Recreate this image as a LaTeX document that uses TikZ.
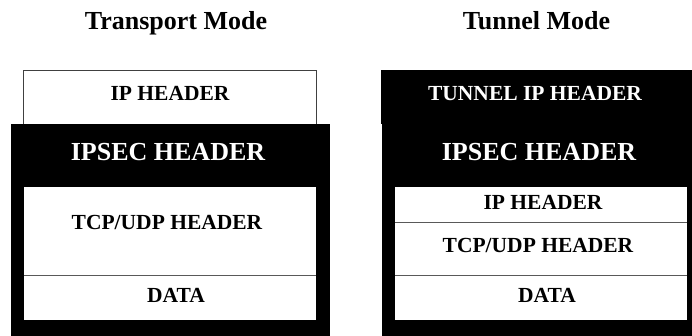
\documentclass[tikz,border=0pt]{standalone}
\usepackage{fontspec}
\setmainfont{Liberation Serif}
\begin{document}
\begin{tikzpicture}[x=1pt,y=-1pt,
  whitebox/.style={draw=black!75, line width=0.8pt, fill=white, inner sep=0pt, outer sep=0pt, anchor=north west},
  whitefill/.style={fill=white, draw=none, inner sep=0pt, outer sep=0pt, anchor=north west},
  blackbox/.style={fill=black, draw=none, inner sep=0pt, outer sep=0pt, anchor=north west},
  sepline/.style={draw=black!65, line width=0.8pt},
  lbl/.style={font=\bfseries\fontsize{21.5}{26}\selectfont, anchor=base, inner sep=0pt},
  biglbl/.style={font=\bfseries\fontsize{26}{30}\selectfont, anchor=base, inner sep=0pt},
  titlelbl/.style={font=\bfseries\fontsize{26}{30}\selectfont, anchor=base, inner sep=0pt}]
\useasboundingbox (0,0) rectangle (692,335);
\clip (0,0) rectangle (692,335);
\fill[white] (0,0) rectangle (692,335);
% titles
\node[titlelbl] (t1) at (176,29) {Transport Mode};
\node[titlelbl] (t2) at (536.5,29) {Tunnel Mode};
% left: transport mode
\node[whitebox, minimum width=293.4pt, minimum height=60pt] (lip) at (23.3,70.7) {};
\node[blackbox, minimum width=319pt, minimum height=230pt] (lsec) at (11,124) {};
\node[whitefill, minimum width=292pt, minimum height=89pt] (ltcp) at (24,186.7) {};
\node[whitefill, minimum width=292pt, minimum height=44.3pt] (ldata) at (24,275.7) {};
\draw[sepline] (ltcp.south west) -- (ltcp.south east);
\node[lbl] (liptxt) at (170,100) {IP HEADER};
\node[biglbl, text=white] (lsectxt) at (168,160.3) {IPSEC HEADER};
\node[lbl] (ltcptxt) at (167,229.3) {TCP/UDP HEADER};
\node[lbl] (ldatatxt) at (176,302.3) {DATA};
% right: tunnel mode
\node[blackbox, minimum width=330pt, minimum height=54pt] (rtun) at (381,70) {};
\node[blackbox, minimum width=330pt, minimum height=230pt] (rsec) at (382,124) {};
\node[whitefill, minimum width=292pt, minimum height=35.6pt] (rip) at (395,186.7) {};
\node[whitefill, minimum width=292pt, minimum height=53.4pt] (rtcp) at (395,222.3) {};
\node[whitefill, minimum width=292pt, minimum height=44.3pt] (rdata) at (395,275.7) {};
\draw[sepline] (rip.south west) -- (rip.south east);
\draw[sepline] (rtcp.south west) -- (rtcp.south east);
\node[lbl, text=white] (rtuntxt) at (535,100) {TUNNEL IP HEADER};
\node[biglbl, text=white] (rsectxt) at (539,160.3) {IPSEC HEADER};
\node[lbl] (riptxt) at (543,209) {IP HEADER};
\node[lbl] (rtcptxt) at (538,252.3) {TCP/UDP HEADER};
\node[lbl] (rdatatxt) at (547,302.3) {DATA};
\end{tikzpicture}
\end{document}
